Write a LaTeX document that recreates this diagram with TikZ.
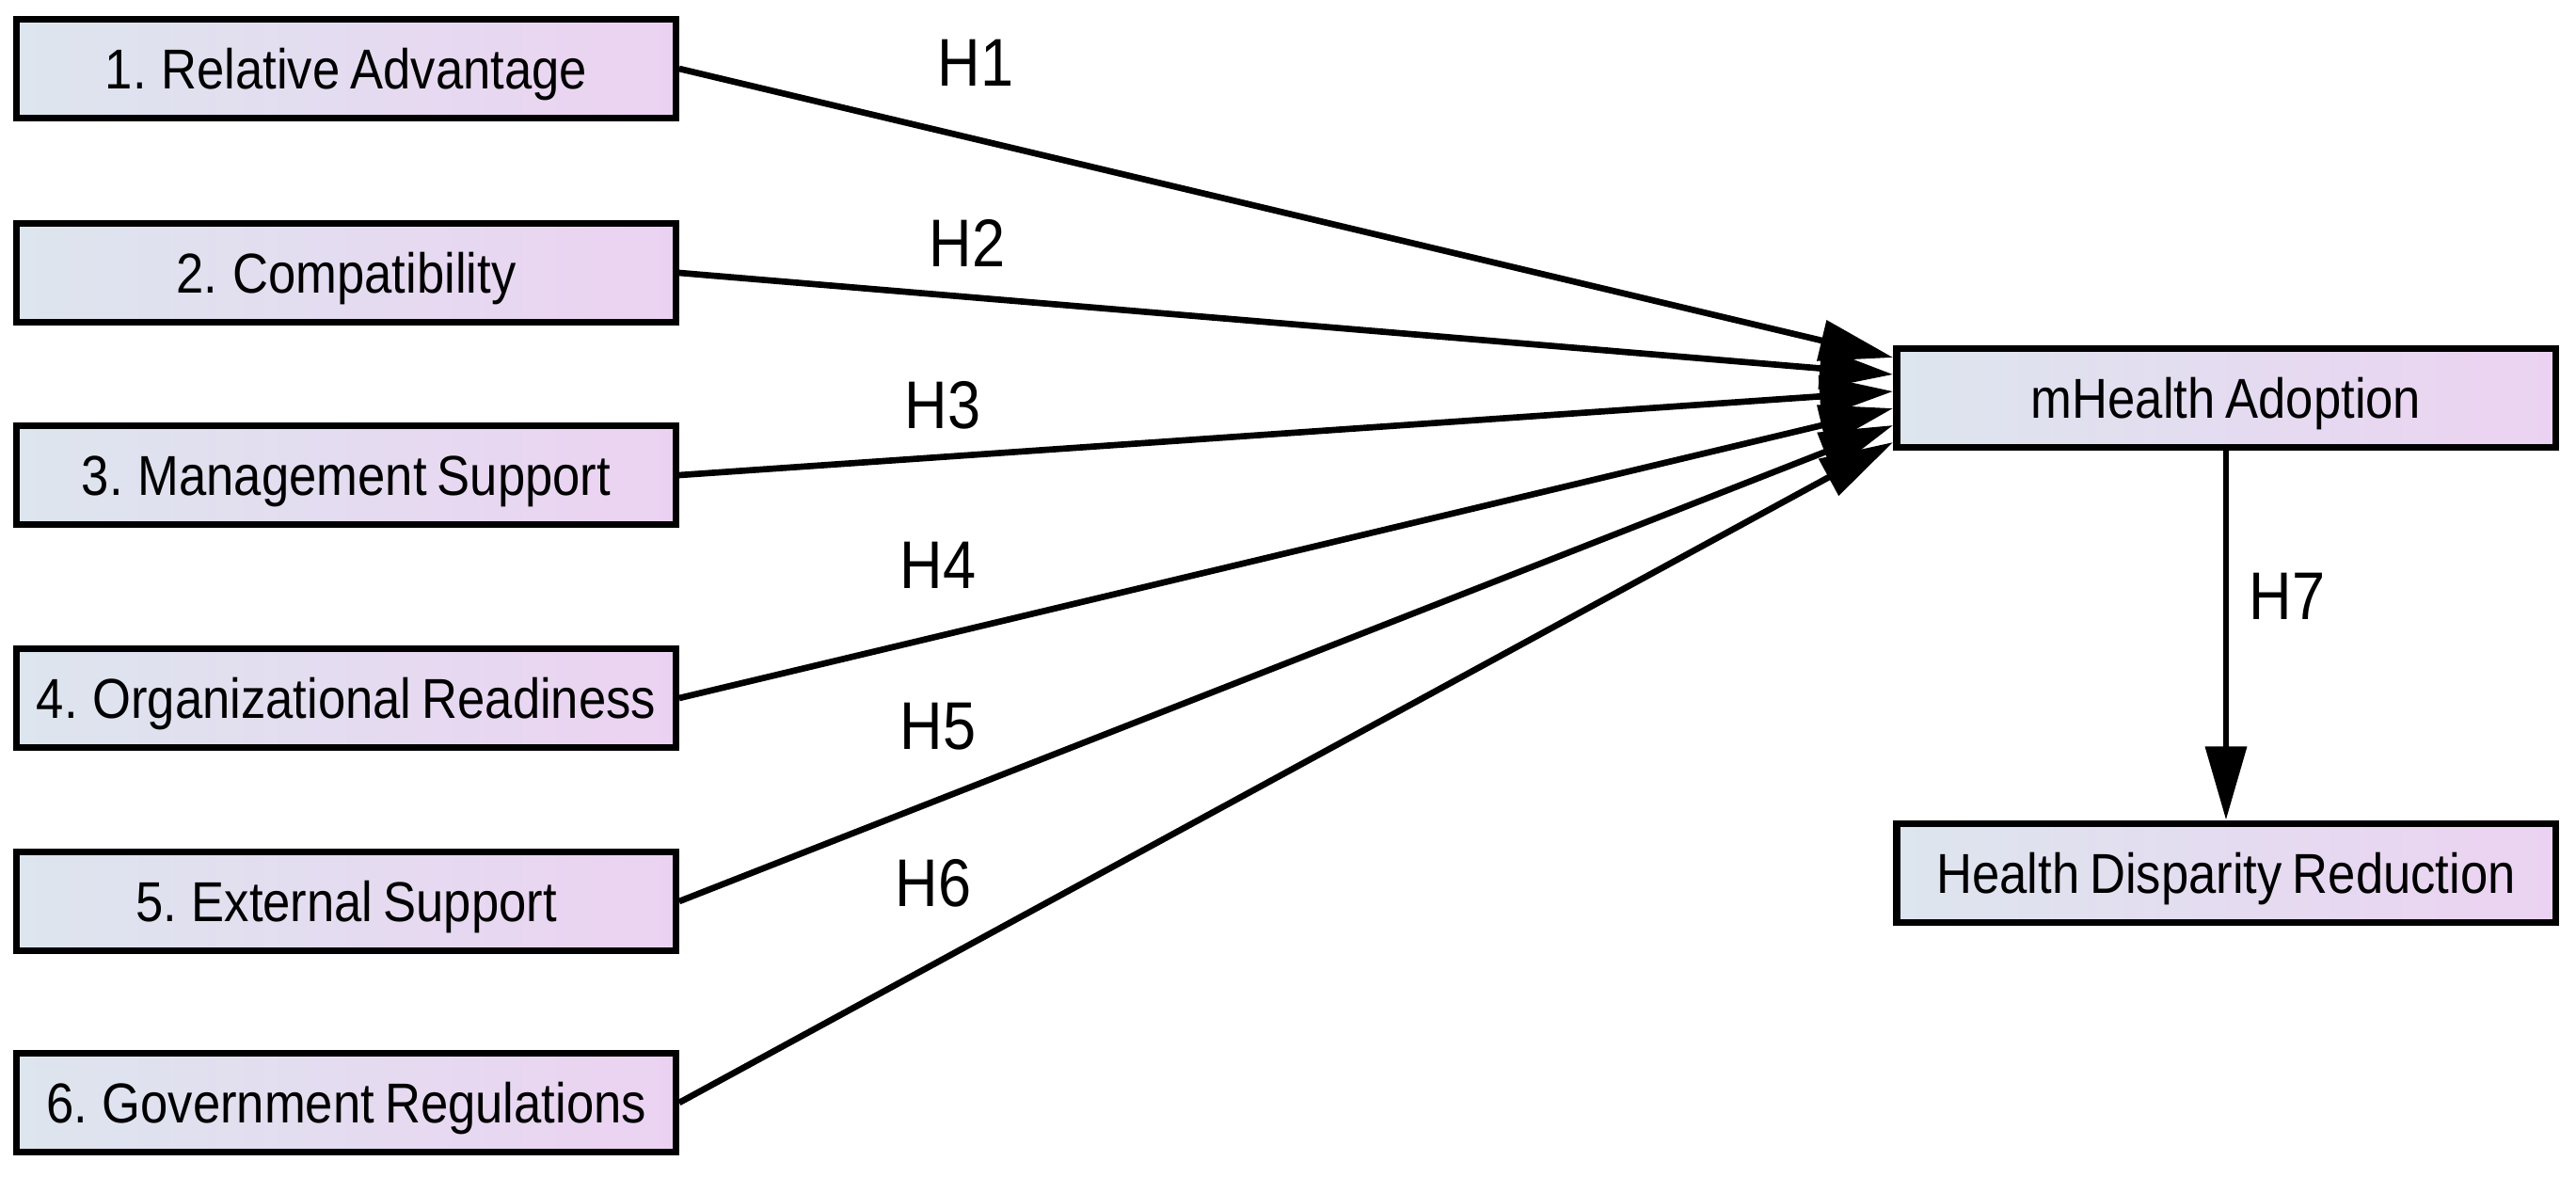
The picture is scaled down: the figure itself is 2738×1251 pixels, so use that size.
\documentclass[tikz,border=0pt]{standalone}
\usepackage{fontspec}
\setmainfont{Liberation Sans}[FakeStretch=0.88,WordSpace=0.75]
\usetikzlibrary{arrows.meta}
\definecolor{boxL}{RGB}{221,229,238}
\definecolor{boxR}{RGB}{236,210,242}
\begin{document}
\begin{tikzpicture}[x=0.01cm,y=-0.01cm,
  box/.style={draw=black, line width=2.1pt, rectangle, minimum width=7.0cm,
    minimum height=1.055cm, inner sep=0pt, left color=boxL, right color=boxR,
    font=\fontsize{17}{20}\selectfont, text height=12.2pt, text depth=0pt},
  hlabel/.style={font=\fontsize{20.4}{24}\selectfont, inner sep=0pt},
  conn/.style={line width=1.9pt, -{Triangle[length=0.78cm,width=0.43cm]}}]
\fill[white] (0,0) rectangle (2738,1251);
\useasboundingbox (0,0) rectangle (2738,1251);

\node[box] (b1) at (368,73) {1. Relative Advantage};
\node[box] (b2) at (368,290) {2. Compatibility};
\node[box] (b3) at (368,505) {3. Management Support};
\node[box] (b4) at (368,742) {4. Organizational Readiness};
\node[box] (b5) at (368,958) {5. External Support};
\node[box] (b6) at (368,1172) {6. Government Regulations};

\node[box] (mh) at (2366,423) {mHealth Adoption};
\node[box] (hd) at (2366,928) {Health Disparity Reduction};

\draw[conn] (b1.east) -- ([yshift=0.43cm]mh.west);
\draw[conn] (b2.east) -- ([yshift=0.25cm]mh.west);
\draw[conn] (b3.east) -- ([yshift=0.07cm]mh.west);
\draw[conn] (b4.east) -- ([yshift=-0.11cm]mh.west);
\draw[conn] (b5.east) -- ([yshift=-0.29cm]mh.west);
\draw[conn] (b6.east) -- ([yshift=-0.47cm]mh.west);
\draw[conn] (mh.south) -- (hd.north);

\node[hlabel] (h1) at (1037,67) {H1};
\node[hlabel] (h2) at (1028,258) {H2};
\node[hlabel] (h3) at (1002,431) {H3};
\node[hlabel] (h4) at (997,601) {H4};
\node[hlabel] (h5) at (997,772) {H5};
\node[hlabel] (h6) at (992,939) {H6};
\node[hlabel] (h7) at (2431,634) {H7};
\end{tikzpicture}
\end{document}
